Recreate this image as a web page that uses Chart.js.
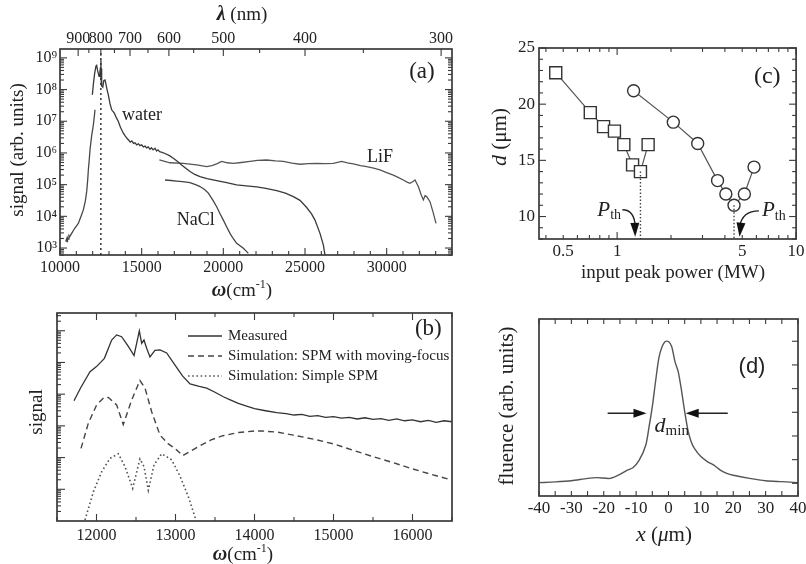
<!DOCTYPE html>
<html><head><meta charset="utf-8">
<script src="https://cdn.jsdelivr.net/npm/chart.js@4.4.0/dist/chart.umd.min.js"></script>
<style>
html,body{margin:0;padding:0;background:#fff;width:806px;height:564px;overflow:hidden;}
canvas{position:absolute;}
</style></head><body>
<canvas id="ca" width="470" height="305" style="left:0;top:0"></canvas>
<canvas id="cb" width="470" height="272" style="left:0;top:295px"></canvas>
<canvas id="cc" width="326" height="290" style="left:480px;top:0"></canvas>
<canvas id="cd" width="326" height="274" style="left:480px;top:290px"></canvas>
<script>
// ================= DATA =================
// Panel (a): supercontinuum spectra, omega (cm^-1) vs signal (arb. units)
const aWaterRiseOmega  = [10350, 10400, 10430, 10460, 10500, 10550, 10600, 10714, 10900, 11122, 11300, 11429, 11550, 11633, 11700, 11735, 11790, 11837, 11940, 12041, 12100, 12143];
const aWaterRiseSignal = [1.6e3, 1.9e3, 1.6e3, 2.1e3, 1.9e3, 2.5e3, 2.3e3, 2.9e3, 4.2e3, 6.0e3, 1.05e4, 1.6e4, 3.0e4, 6.0e4, 1.5e5, 2.9e5, 6.0e5, 1.26e6, 3.5e6, 7.6e6, 1.4e7, 2.3e7];
const aWaterOmega  = [11980, 12050, 12120, 12200, 12245, 12300, 12388, 12440, 12480, 12500,
                      12510, 12525, 12540, 12560, 12620, 12680, 12755, 12800, 12880, 12959,
                      13060, 13163, 13326, 13450, 13571, 13700, 13878, 14000, 14100, 14184,
                      14300, 14400, 14500, 14592, 14700, 14800, 14900, 15000, 15100, 15204,
                      15300, 15400, 15510, 15600, 15700, 15816, 15918, 16000, 16100, 16250,
                      16428, 16700, 16938, 17200, 17449, 17700, 17959, 18250, 18571, 19000,
                      19592, 20200, 20816, 21400, 22041, 22600, 23265, 23800, 24286, 24694,
                      25102, 25400, 25612, 25918, 26122, 26224];
const aWaterSignal = [6.8e7, 1.6e8, 3.2e8, 5.5e8, 5.8e8, 4.0e8, 2.6e8, 3.5e8, 5.0e8, 2.0e8,
                      8.5e8, 1.6e8, 4.5e8, 1.3e8, 1.2e8, 1.9e8, 2.0e8, 1.6e8, 1.0e8, 6.8e7,
                      3.6e7, 2.3e7, 1.8e7, 1.3e7, 9.8e6, 6.5e6, 4.2e6, 3.4e6, 2.9e6, 2.6e6,
                      2.2e6, 2.4e6, 2.0e6, 2.1e6, 1.8e6, 1.95e6, 1.7e6, 1.8e6, 1.55e6, 1.65e6,
                      1.45e6, 1.55e6, 1.3e6, 1.45e6, 1.25e6, 1.4e6, 1.15e6, 1.25e6, 1.1e6, 1.05e6,
                      9.6e5, 8.2e5, 6.8e5, 5.4e5, 4.2e5, 3.3e5, 2.6e5, 2.1e5, 1.8e5, 1.55e5,
                      1.35e5, 1.15e5, 9.8e4, 9.2e4, 8.5e4, 7.6e4, 6.5e4, 5.4e4, 4.2e4, 3.2e4,
                      1.9e4, 1.2e4, 7.6e3, 2.9e3, 1.26e3, 6.0e2];
const aLiFOmega  = [16082, 16734, 17550, 18367, 18980, 19300, 19592, 19898, 20250, 20612,
                    21100, 21633, 22100, 22654, 23200, 23673, 24200, 24694, 25200, 25714,
                    26200, 26735, 27245, 27600, 27959, 28400, 28776, 29200, 29592, 30000,
                    30408, 30700, 31020, 31250, 31429, 31612, 31735, 31939, 32100, 32245,
                    32350, 32449, 32653, 32857, 33020];
const aLiFSignal = [6.0e5, 4.9e5, 4.7e5, 4.2e5, 3.7e5, 4.0e5, 4.5e5, 5.4e5, 4.9e5, 4.7e5,
                    5.0e5, 5.4e5, 5.8e5, 6.0e5, 5.6e5, 5.4e5, 4.8e5, 4.4e5, 4.6e5, 4.7e5,
                    4.6e5, 4.7e5, 5.4e5, 4.9e5, 4.5e5, 4.0e5, 3.7e5, 3.3e5, 2.9e5, 2.4e5,
                    2.0e5, 1.7e5, 1.4e5, 1.2e5, 1.1e5, 1.25e5, 1.4e5, 8.7e4, 5.0e4, 3.3e4,
                    4.5e4, 4.2e4, 2.9e4, 1.26e4, 6.0e3];
const aNaClOmega  = [16428, 16800, 17143, 17500, 17959, 18300, 18571, 18850, 19082, 19350, 19592, 19800, 20000, 20200, 20408, 20600, 20816, 21000, 21225, 21400, 21531];
const aNaClSignal = [1.4e5, 1.35e5, 1.3e5, 1.25e5, 1.15e5, 1.0e5, 8.7e4, 7.0e4, 5.4e4, 3.3e4, 2.0e4, 1.2e4, 7.6e3, 4.7e3, 2.9e3, 2.0e3, 1.4e3, 1.2e3, 9.8e2, 8.0e2, 6.8e2];
const aPumpOmega = 12500;                       // 800 nm
const aOmegaTicks  = [10000, 15000, 20000, 25000, 30000];
const aLambdaTicks = [900, 800, 700, 600, 500, 400, 300];   // nm, top axis
const aLambdaMinor = [850, 750, 650, 550, 450, 350];
const aSignalTicks = [1e3, 1e4, 1e5, 1e6, 1e7, 1e8, 1e9];

// Panel (b): measured vs simulated spectra
const bMeasOmega  = [11715, 11800, 11918, 12000, 12100, 12192, 12255, 12318, 12403, 12475,
                     12517, 12542, 12572, 12601, 12635, 12677, 12740, 12804, 12888, 12994,
                     13091, 13184, 13300, 13395, 13500, 13605, 13700, 13795, 13900, 14000,
                     14140, 14281, 14400, 14500, 14600, 14700, 14800, 14900, 15000, 15100,
                     15200, 15300, 15400, 15500, 15600, 15700, 15800, 15900, 16000, 16100,
                     16200, 16300, 16400, 16500];
const bMeasSignal = [6.2e3, 1.6e4, 5.1e4, 7.4e4, 1.35e5, 5.1e5, 7.4e5, 6.5e5, 3.2e5, 1.66e5,
                     5.1e5, 1.0e6, 4.0e5, 5.1e5, 2.8e5, 1.5e5, 2.4e5, 2.5e5, 2.0e5, 8.3e4,
                     3.7e4, 2.1e4, 1.75e4, 1.55e4, 1.15e4, 8.3e3, 6.5e3, 5.1e3, 4.2e3, 3.5e3,
                     3.0e3, 2.6e3, 2.45e3, 2.2e3, 2.3e3, 2.0e3, 2.1e3, 1.85e3, 1.95e3, 1.75e3,
                     1.85e3, 1.65e3, 1.8e3, 1.6e3, 1.7e3, 1.5e3, 1.65e3, 1.45e3, 1.55e3, 1.35e3,
                     1.5e3, 1.3e3, 1.45e3, 1.35e3];
const bMovOmega  = [11804, 11896, 12002, 12095, 12150, 12255, 12339, 12445, 12550, 12614,
                    12698, 12804, 12909, 12994, 13091, 13200, 13310, 13450, 13600, 13800,
                    14000, 14100, 14300, 14491, 14750, 15000, 15250, 15500, 15750, 16000,
                    16250, 16500];
const bMovSignal = [195, 1.2e3, 4.6e3, 7.8e3, 7.9e3, 4.6e3, 1.1e3, 6.5e3, 2.7e4, 1.55e4,
                    2.8e3, 510, 270, 195, 115, 165, 235, 360, 490, 620,
                    690, 690, 630, 510, 380, 270, 170, 107, 70, 44,
                    29, 19.5];
const bSpmOmega  = [11854, 11960, 12066, 12171, 12276, 12361, 12458, 12550, 12601, 12656, 12728, 12825, 12952, 13057, 13162, 13259];
const bSpmSignal = [1.07, 8.3, 36, 95, 132, 52, 10.7, 91, 52, 9.3, 59, 132, 85, 26, 5.9, 1.07];
const bOmegaTicks = [12000, 13000, 14000, 15000, 16000];
const bLabels = ['Measured', 'Simulation: SPM with moving-focus', 'Simulation: Simple SPM'];

// Panel (c): beam diameter vs input peak power
const cSquarePower = [0.454, 0.708, 0.84, 0.966, 1.09, 1.22, 1.35, 1.49];
const cSquareD     = [22.8, 19.25, 18.0, 17.6, 16.4, 14.6, 14.0, 16.4];
const cCirclePower = [1.236, 2.06, 2.82, 3.64, 4.05, 4.5, 5.14, 5.82];
const cCircleD     = [21.2, 18.4, 16.5, 13.2, 12.0, 11.0, 12.0, 14.4];
const cThresholdP  = [1.35, 4.5];
const cThresholdD  = [14.0, 11.0];
const cPowerTicks  = [0.5, 1, 5, 10];
const cDTicks      = [10, 15, 20, 25];

// Panel (d): fluence profile
const dX       = [-40, -35, -30, -25, -22, -18, -15, -13, -11, -9, -7, -6, -5, -4, -3, -2, -1, 0,
                  1, 2, 3, 4, 5, 6, 7, 8, 10, 12, 14, 16, 18, 20, 25, 30, 35, 40];
const dFluence = [0.03, 0.06, 0.11, 0.21, 0.24, 0.21, 0.38, 0.54, 0.66, 0.99, 1.62, 2.39, 3.24, 4.30, 5.28, 5.77, 5.99, 5.99,
                  5.77, 5.14, 4.72, 3.94, 3.03, 2.25, 1.76, 1.48, 1.13, 0.92, 0.77, 0.56, 0.42, 0.34, 0.21, 0.11, 0.07, 0.03];
const dXTicks  = [-40, -30, -20, -10, 0, 10, 20, 30, 40];

// ================= HELPERS =================
const SERIF = '"Liberation Serif","Times New Roman",serif';
const SANS  = '"Liberation Sans",Arial,sans-serif';
const INK = '#222';
const FRAME = '#3a3a3a';
Chart.defaults.font.family = SERIF;
Chart.defaults.color = INK;
const SUP = {0:'⁰',1:'¹',2:'²',3:'³',4:'⁴',5:'⁵',6:'⁶',7:'⁷',8:'⁸',9:'⁹'};
const F = (size, style) => `${style || ''} ${size}px ${SERIF}`;
const pts = (xs, ys) => xs.map((x, i) => ({x: x, y: ys[i]}));
const range = (a, b, s) => { const r = []; for (let v = a; v <= b + 1e-9; v += s) r.push(+v.toFixed(6)); return r; };
const without = (arr, ex) => arr.filter(v => !ex.some(e => Math.abs(e - v) < 1e-9));
const logMinor = (e0, e1) => { const r = []; for (let e = e0; e <= e1; e++) for (let m = 2; m < 10; m++) r.push(m * Math.pow(10, e)); return r; };
const logMajor = (e0, e1) => { const r = []; for (let e = e0; e <= e1; e++) r.push(Math.pow(10, e)); return r; };
const fixH = h => s => { s.height = h; s.paddingLeft = s.paddingRight = s.paddingTop = s.paddingBottom = 0; };
const fixW = w => s => { s.width = w; s.paddingLeft = s.paddingRight = s.paddingTop = s.paddingBottom = 0; };
const noGrid = {display: false, drawTicks: false};
const noBorder = {display: false};

function drawRich(ctx, parts, x, y, align, rot) {
  ctx.save(); ctx.translate(x, y); if (rot) ctx.rotate(rot);
  ctx.textBaseline = 'middle'; ctx.textAlign = 'left'; ctx.fillStyle = INK;
  let total = 0;
  const ws = parts.map(p => { ctx.font = p.f; const w = ctx.measureText(p.t).width; total += w; return w; });
  let cx = align === 'center' ? -total / 2 : (align === 'right' ? -total : 0);
  parts.forEach((p, i) => { ctx.font = p.f; ctx.fillText(p.t, cx, p.dy || 0); cx += ws[i]; });
  ctx.restore();
}
function arrowHead(ctx, x, y, ang, len, w) {
  const c = Math.cos(ang), s = Math.sin(ang);
  ctx.beginPath(); ctx.moveTo(x, y);
  ctx.lineTo(x - len * c - (w / 2) * s, y - len * s + (w / 2) * c);
  ctx.lineTo(x - len * c + (w / 2) * s, y - len * s - (w / 2) * c);
  ctx.closePath(); ctx.fill();
}
function framePlugin(spec, drawExtra) {
  return {
    id: 'frameDecor',
    afterDraw(chart) {
      const ctx = chart.ctx, a = chart.chartArea;
      ctx.save();
      ctx.strokeStyle = FRAME; ctx.lineWidth = 1.7;
      ctx.strokeRect(a.left, a.top, a.right - a.left, a.bottom - a.top);
      ctx.lineWidth = 1.1;
      spec.forEach(s => {
        const sc = chart.scales[s.axis];
        [[s.major, s.ml || 7], [s.minor || [], s.nl || 4]].forEach(([vals, len]) => {
          vals.forEach(v => {
            const p = sc.getPixelForValue(v);
            ctx.beginPath();
            if (s.edge === 'bottom' || s.edge === 'top') {
              if (p < a.left - 0.5 || p > a.right + 0.5) return;
              const y0 = s.edge === 'bottom' ? a.bottom : a.top;
              ctx.moveTo(p, y0); ctx.lineTo(p, s.edge === 'bottom' ? y0 - len : y0 + len);
            } else {
              if (p < a.top - 0.5 || p > a.bottom + 0.5) return;
              const x0 = s.edge === 'left' ? a.left : a.right;
              ctx.moveTo(x0, p); ctx.lineTo(s.edge === 'left' ? x0 + len : x0 - len, p);
            }
            ctx.stroke();
          });
        });
      });
      ctx.restore();
      if (drawExtra) { ctx.save(); drawExtra(chart, ctx); ctx.restore(); }
    }
  };
}
const baseOpts = (padding) => ({
  responsive: false, animation: false, events: [],
  layout: {padding: padding},
  plugins: {legend: {display: false}, tooltip: {enabled: false}},
  elements: {point: {radius: 0}, line: {tension: 0}}
});
const curve = (xs, ys, extra) => Object.assign({data: pts(xs, ys), showLine: true, pointRadius: 0, borderColor: '#484848', borderWidth: 1.3, fill: false}, extra || {});

// ================= PANEL (a) =================
const aXMin = 10000, aXMax = 34000, aYMin = Math.pow(10, 2.78), aYMax = Math.pow(10, 9.28);
new Chart(document.getElementById('ca'), {
  type: 'scatter',
  data: {datasets: [
    curve([aPumpOmega, aPumpOmega], [aYMin, aYMax], {borderColor: '#333', borderWidth: 1.5, borderDash: [2, 3]}),
    curve(aWaterRiseOmega, aWaterRiseSignal, {label: 'water'}),
    curve(aWaterOmega, aWaterSignal, {label: 'water', borderColor: '#3a3a3a'}),
    curve(aLiFOmega, aLiFSignal, {label: 'LiF', borderColor: '#555'}),
    curve(aNaClOmega, aNaClSignal, {label: 'NaCl', borderColor: '#444'})
  ]},
  options: Object.assign(baseOpts({left: 0, right: 18, top: 0, bottom: 0}), {
    scales: {
      x: {type: 'linear', position: 'bottom', min: aXMin, max: aXMax, grid: noGrid, border: noBorder,
          afterBuildTicks: s => { s.ticks = aOmegaTicks.map(v => ({value: v})); },
          ticks: {font: {size: 16}, padding: 3, maxRotation: 0, autoSkip: false, callback: v => String(v)},
          afterFit: fixH(50)},
      x2: {type: 'linear', position: 'top', min: aXMin, max: aXMax, grid: noGrid, border: noBorder,
          afterBuildTicks: s => { s.ticks = aLambdaTicks.map(l => ({value: 1e7 / l})); },
          ticks: {font: {size: 16}, padding: 1, maxRotation: 0, autoSkip: false, callback: v => String(Math.round(1e7 / v))},
          afterFit: fixH(49)},
      y: {type: 'logarithmic', min: aYMin, max: aYMax, grid: noGrid, border: noBorder,
          afterBuildTicks: s => { s.ticks = aSignalTicks.map(v => ({value: v})); },
          ticks: {font: {size: 16}, padding: 3, autoSkip: false, callback: v => '10' + SUP[Math.round(Math.log10(v))]},
          afterFit: fixW(60)}
    }
  }),
  plugins: [framePlugin([
    {axis: 'x', edge: 'bottom', major: aOmegaTicks, minor: without(range(11000, 34000, 1000), aOmegaTicks)},
    {axis: 'x', edge: 'top', major: aLambdaTicks.map(l => 1e7 / l), minor: aLambdaMinor.map(l => 1e7 / l)},
    {axis: 'y', edge: 'left', major: logMajor(3, 9), minor: logMinor(2, 9)},
    {axis: 'y', edge: 'right', major: logMajor(3, 9), minor: logMinor(2, 9)}
  ], (chart, ctx) => {
    const x = chart.scales.x, y = chart.scales.y;
    drawRich(ctx, [{t: 'water', f: F(18)}], x.getPixelForValue(13800), y.getPixelForValue(Math.pow(10, 7.2)), 'left');
    drawRich(ctx, [{t: 'LiF', f: F(18)}], x.getPixelForValue(28800), y.getPixelForValue(Math.pow(10, 5.87)), 'left');
    drawRich(ctx, [{t: 'NaCl', f: F(18)}], x.getPixelForValue(17150), y.getPixelForValue(Math.pow(10, 3.88)), 'left');
    drawRich(ctx, [{t: '(a)', f: F(23)}], x.getPixelForValue(32160), y.getPixelForValue(Math.pow(10, 8.56)), 'center');
    // axis titles
    drawRich(ctx, [{t: 'λ', f: F(20, 'italic bold')}, {t: ' (nm)', f: F(19)}], 242, 15, 'center');
    drawRich(ctx, [{t: 'ω', f: F(20, 'italic bold')}, {t: '(cm', f: F(19)}, {t: '-1', f: F(12), dy: -6}, {t: ')', f: F(19)}], 242, 291, 'center');
    drawRich(ctx, [{t: 'signal (arb. units)', f: F(19)}], 18, 150, 'center', -Math.PI / 2);
  })]
});

// ================= PANEL (b) =================
const bXMin = 11500, bXMax = 16500, bYMin = 1, bYMax = Math.pow(10, 6.56);
new Chart(document.getElementById('cb'), {
  type: 'scatter',
  data: {datasets: [
    curve(bMeasOmega, bMeasSignal, {label: bLabels[0], borderColor: '#333', borderWidth: 1.3}),
    curve(bMovOmega, bMovSignal, {label: bLabels[1], borderColor: '#444', borderWidth: 1.4, borderDash: [6, 4]}),
    curve(bSpmOmega, bSpmSignal, {label: bLabels[2], borderColor: '#555', borderWidth: 1.6, borderDash: [1.6, 2.6]})
  ]},
  options: Object.assign(baseOpts({left: 0, right: 18, top: 18, bottom: 0}), {
    scales: {
      x: {type: 'linear', position: 'bottom', min: bXMin, max: bXMax, grid: noGrid, border: noBorder,
          afterBuildTicks: s => { s.ticks = bOmegaTicks.map(v => ({value: v})); },
          ticks: {font: {size: 16}, padding: 5, maxRotation: 0, autoSkip: false, callback: v => String(v)},
          afterFit: fixH(46)},
      y: {type: 'logarithmic', min: bYMin, max: bYMax, grid: noGrid, border: noBorder,
          ticks: {display: false}, afterFit: fixW(57)}
    }
  }),
  plugins: [framePlugin([
    {axis: 'x', edge: 'bottom', major: bOmegaTicks, minor: without(range(11500, 16500, 500), bOmegaTicks)},
    {axis: 'x', edge: 'top', major: bOmegaTicks, minor: without(range(11500, 16500, 500), bOmegaTicks)},
    {axis: 'y', edge: 'left', major: logMajor(1, 6), minor: logMinor(0, 6), ml: 8, nl: 4}
  ], (chart, ctx) => {
    const a = chart.chartArea, x = chart.scales.x, y = chart.scales.y;
    chart.data.datasets.forEach((ds, i) => {
      const ly = a.top + 23 + i * 20;
      ctx.save();
      ctx.strokeStyle = ds.borderColor; ctx.lineWidth = ds.borderWidth;
      ctx.setLineDash(ds.borderDash || []);
      ctx.beginPath(); ctx.moveTo(a.left + 131, ly); ctx.lineTo(a.left + 165, ly); ctx.stroke();
      ctx.restore();
      drawRich(ctx, [{t: ds.label, f: F(15)}], a.left + 171, ly, 'left');
    });
    drawRich(ctx, [{t: '(b)', f: F(23)}], x.getPixelForValue(16200), y.getPixelForValue(1.1e6), 'center');
    drawRich(ctx, [{t: 'ω', f: F(20, 'italic bold')}, {t: '(cm', f: F(19)}, {t: '-1', f: F(12), dy: -6}, {t: ')', f: F(19)}], 243, 260, 'center');
    drawRich(ctx, [{t: 'signal', f: F(19)}], 37, 117, 'center', -Math.PI / 2);
  })]
});

// ================= PANEL (c) =================
const cXMin = 0.366, cXMax = 10, cYMin = 8, cYMax = 25;
new Chart(document.getElementById('cc'), {
  type: 'scatter',
  data: {datasets: [
    curve([cThresholdP[0], cThresholdP[0]], [cThresholdD[0], cYMin], {borderColor: '#444', borderWidth: 1.4, borderDash: [1.5, 2]}),
    curve([cThresholdP[1], cThresholdP[1]], [cThresholdD[1], cYMin], {borderColor: '#444', borderWidth: 1.4, borderDash: [1.5, 2]}),
    curve(cSquarePower, cSquareD, {borderColor: '#555', borderWidth: 1.2, pointStyle: 'rect', pointRadius: 8.5,
          pointBackgroundColor: '#fff', pointBorderColor: '#333', pointBorderWidth: 1.4}),
    curve(cCirclePower, cCircleD, {borderColor: '#555', borderWidth: 1.2, pointStyle: 'circle', pointRadius: 6,
          pointBackgroundColor: '#fff', pointBorderColor: '#333', pointBorderWidth: 1.4})
  ]},
  options: Object.assign(baseOpts({left: 0, right: 8, top: 48, bottom: 0}), {
    scales: {
      x: {type: 'logarithmic', position: 'bottom', min: cXMin, max: cXMax, grid: noGrid, border: noBorder,
          afterBuildTicks: s => { s.ticks = cPowerTicks.map(v => ({value: v})); },
          ticks: {font: {size: 17}, padding: 2.5, maxRotation: 0, autoSkip: false, callback: v => String(v)},
          afterFit: fixH(51)},
      y: {type: 'linear', min: cYMin, max: cYMax, grid: noGrid, border: noBorder,
          afterBuildTicks: s => { s.ticks = cDTicks.map(v => ({value: v})); },
          ticks: {font: {size: 17}, padding: 4, autoSkip: false, callback: v => String(v)},
          afterFit: fixW(59)}
    }
  }),
  plugins: [framePlugin([
    {axis: 'x', edge: 'bottom', major: [1, 10], minor: [0.4, 0.5, 0.6, 0.7, 0.8, 0.9, 2, 3, 4, 5, 6, 7, 8, 9]},
    {axis: 'x', edge: 'top', major: [1, 10], minor: [0.4, 0.5, 0.6, 0.7, 0.8, 0.9, 2, 3, 4, 5, 6, 7, 8, 9]},
    {axis: 'y', edge: 'left', major: cDTicks, minor: without(range(8, 25, 1), cDTicks)},
    {axis: 'y', edge: 'right', major: cDTicks, minor: without(range(8, 25, 1), cDTicks)}
  ], (chart, ctx) => {
    const x = chart.scales.x, y = chart.scales.y;
    const X = v => x.getPixelForValue(v), Y = v => y.getPixelForValue(v);
    ctx.strokeStyle = '#222'; ctx.fillStyle = '#111'; ctx.lineWidth = 1.4;
    // left P_th arrow
    let sx = X(1.07), sy = Y(10.6), qx = X(1.25), qy = Y(10.6), tx = X(1.262), ty = Y(8.2);
    ctx.beginPath(); ctx.moveTo(sx, sy); ctx.quadraticCurveTo(qx, qy, tx, ty - 10); ctx.stroke();
    arrowHead(ctx, tx, ty, Math.atan2(ty - qy, tx - qx), 14, 9);
    drawRich(ctx, [{t: 'P', f: F(21, 'italic')}, {t: 'th', f: F(14), dy: 5}], X(0.775), Y(10.55), 'left');
    // right P_th arrow
    sx = X(6.2); sy = Y(10.5); qx = X(5.0); qy = Y(10.5); tx = X(4.83); ty = Y(8.2);
    ctx.beginPath(); ctx.moveTo(sx, sy); ctx.quadraticCurveTo(qx, qy, tx, ty - 10); ctx.stroke();
    arrowHead(ctx, tx, ty, Math.atan2(ty - qy, tx - qx), 14, 9);
    drawRich(ctx, [{t: 'P', f: F(21, 'italic')}, {t: 'th', f: F(14), dy: 5}], X(6.45), Y(10.5), 'left');
    drawRich(ctx, [{t: '(c)', f: F(24)}], X(6.9), Y(22.45), 'center');
    // axis titles
    drawRich(ctx, [{t: 'input peak power (MW)', f: F(19)}], 193, 273, 'center');
    drawRich(ctx, [{t: 'd', f: F(22, 'italic')}, {t: ' (μm)', f: F(21)}], 20, 137, 'center', -Math.PI / 2);
  })]
});

// ================= PANEL (d) =================
const dXMin = -40, dXMax = 40, dYMin = -0.535, dYMax = 6.94;
new Chart(document.getElementById('cd'), {
  type: 'scatter',
  data: {datasets: [
    curve(dX, dFluence, {borderColor: '#555', borderWidth: 1.4, tension: 0.25})
  ]},
  options: Object.assign(baseOpts({left: 0, right: 8, top: 29, bottom: 0}), {
    scales: {
      x: {type: 'linear', position: 'bottom', min: dXMin, max: dXMax, grid: noGrid, border: noBorder,
          afterBuildTicks: s => { s.ticks = dXTicks.map(v => ({value: v})); },
          ticks: {font: {size: 17}, padding: 2, maxRotation: 0, autoSkip: false, callback: v => String(v)},
          afterFit: fixH(68)},
      y: {type: 'linear', min: dYMin, max: dYMax, grid: noGrid, border: noBorder,
          ticks: {display: false}, afterFit: fixW(59)}
    }
  }),
  plugins: [framePlugin([
    {axis: 'x', edge: 'bottom', major: range(-40, 40, 5), ml: 5},
    {axis: 'x', edge: 'top', major: range(-40, 40, 5), ml: 5},
    {axis: 'y', edge: 'right', major: range(0, 6, 1), ml: 6}
  ], (chart, ctx) => {
    const x = chart.scales.x, y = chart.scales.y;
    const X = v => x.getPixelForValue(v), Y = v => y.getPixelForValue(v);
    ctx.strokeStyle = '#222'; ctx.fillStyle = '#111'; ctx.lineWidth = 1.4;
    const ay = Y(2.96);
    ctx.beginPath(); ctx.moveTo(X(-18.8), ay); ctx.lineTo(X(-9), ay); ctx.stroke();
    arrowHead(ctx, X(-6.8), ay, 0, 13, 9);
    ctx.beginPath(); ctx.moveTo(X(18.3), ay); ctx.lineTo(X(7.5), ay); ctx.stroke();
    arrowHead(ctx, X(5.3), ay, Math.PI, 13, 9);
    drawRich(ctx, [{t: 'd', f: F(22, 'italic')}, {t: 'min', f: F(15), dy: 5}], X(-4.3), Y(2.4), 'left');
    drawRich(ctx, [{t: '(d)', f: `22px ${SANS}`}], 272, 77, 'center');
    // axis titles
    drawRich(ctx, [{t: 'x', f: F(22, 'italic')}, {t: ' (', f: F(21)}, {t: 'μ', f: F(21, 'italic')}, {t: 'm)', f: F(21)}], 184, 245, 'center');
    drawRich(ctx, [{t: 'fluence (arb. units)', f: F(21)}], 27, 116, 'center', -Math.PI / 2);
  })]
});
</script>
</body></html>
